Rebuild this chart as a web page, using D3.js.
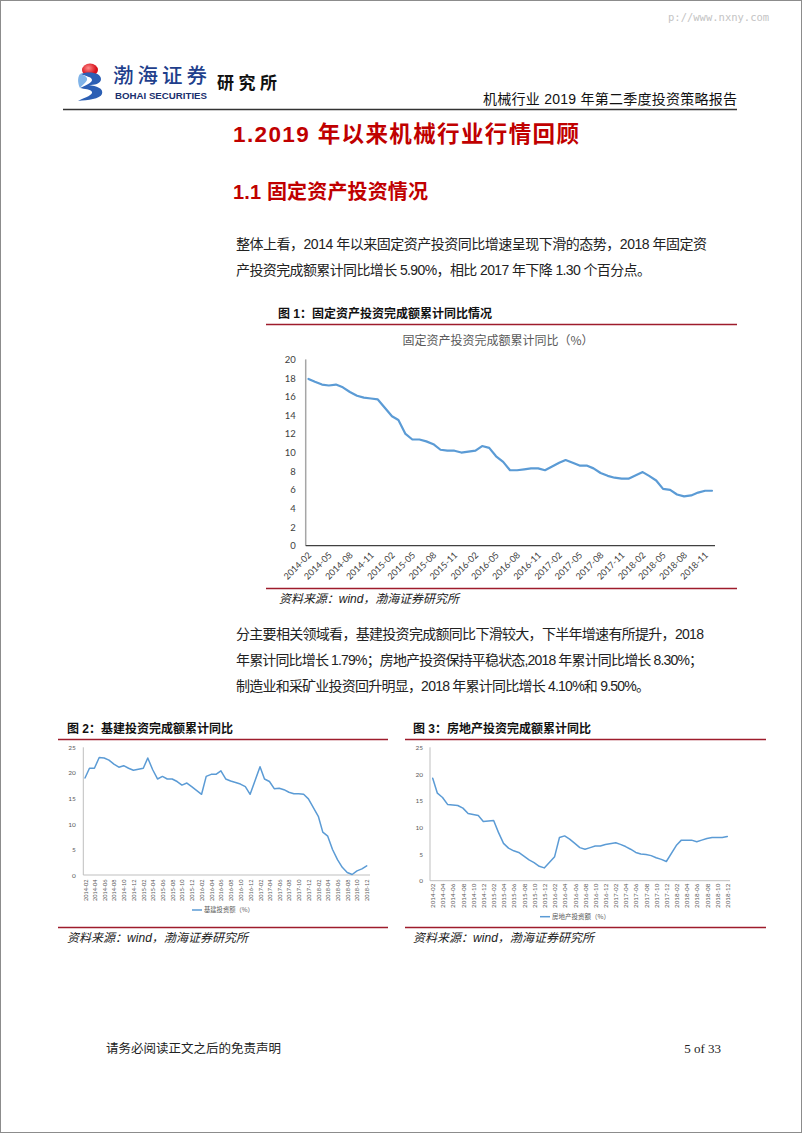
<!DOCTYPE html>
<html><head><meta charset="utf-8">
<script src="https://cdn.jsdelivr.net/npm/d3@7"></script>
<style>
body{margin:0;background:#fff;}
svg{display:block;}
</style></head><body>
<svg id="page" width="802" height="1133"></svg>
<script>
// ---------------- DATA ----------------
const months = [
"2014-02","2014-03","2014-04","2014-05","2014-06","2014-07","2014-08","2014-09","2014-10","2014-11","2014-12",
"2015-02","2015-03","2015-04","2015-05","2015-06","2015-07","2015-08","2015-09","2015-10","2015-11","2015-12",
"2016-02","2016-03","2016-04","2016-05","2016-06","2016-07","2016-08","2016-09","2016-10","2016-11","2016-12",
"2017-02","2017-03","2017-04","2017-05","2017-06","2017-07","2017-08","2017-09","2017-10","2017-11","2017-12",
"2018-02","2018-03","2018-04","2018-05","2018-06","2018-07","2018-08","2018-09","2018-10","2018-11","2018-12"];

const fixedAssetYoY = [
17.9,17.6,17.3,17.2,17.3,17.0,16.5,16.1,15.9,15.8,15.7,
13.9,13.5,12.0,11.4,11.4,11.2,10.9,10.3,10.2,10.2,10.0,
10.2,10.7,10.5,9.6,9.0,8.1,8.1,8.2,8.3,8.3,8.1,
8.9,9.2,8.9,8.6,8.6,8.3,7.8,7.5,7.3,7.2,7.2,
7.9,7.5,7.0,6.1,6.0,5.5,5.3,5.4,5.7,5.9,5.9];

const infraYoY = [
19.0,20.9,20.9,23.0,22.9,22.5,21.7,21.1,21.4,20.9,20.5,
20.9,22.9,20.6,18.8,19.3,18.8,18.8,18.3,17.6,18.0,17.3,
15.8,19.3,19.7,19.7,20.4,18.8,18.4,18.1,17.8,17.3,15.8,
21.2,18.8,18.3,16.9,17.0,16.7,16.2,15.9,15.9,15.8,14.9,
11.5,8.4,7.6,5.0,3.0,1.5,0.5,0.1,0.8,1.2,1.79];

const realEstateYoY = [
19.2,16.4,15.6,14.3,14.2,14.1,13.6,12.6,12.4,12.2,11.1,
11.3,9.1,7.0,6.1,5.6,5.3,4.6,3.9,3.4,2.7,2.4,
4.5,8.1,8.4,7.8,7.0,6.2,5.9,6.2,6.5,6.5,6.8,
7.1,6.8,6.4,5.9,5.3,5.0,4.9,4.7,4.3,4.0,3.6,
6.7,7.6,7.6,7.6,7.3,7.6,7.9,8.1,8.1,8.1,8.3];

const fig1XTicks = ["2014-02","2014-05","2014-08","2014-11","2015-02","2015-05","2015-08","2015-11",
"2016-02","2016-05","2016-08","2016-11","2017-02","2017-05","2017-08","2017-11",
"2018-02","2018-05","2018-08","2018-11"];
const fig23XTicks = ["2014-02","2014-04","2014-06","2014-08","2014-10","2014-12",
"2015-02","2015-04","2015-06","2015-08","2015-10","2015-12",
"2016-02","2016-04","2016-06","2016-08","2016-10","2016-12",
"2017-02","2017-04","2017-06","2017-08","2017-10","2017-12",
"2018-02","2018-04","2018-06","2018-08","2018-10","2018-12"];
const fig1YTicks = [0,2,4,6,8,10,12,14,16,18,20];
const fig23YTicks = [0,5,10,15,20,25];

const fig1Title = "固定资产投资完成额累计同比（%）";
const fig2Legend = "基建投资额（%）";
const fig3Legend = "房地产投资额（%）";

// ---------------- PAGE ----------------
const svg = d3.select("#page");
const CJK = "'Noto Sans CJK SC', sans-serif";
const MIX = "'Liberation Sans', 'Noto Sans CJK SC', sans-serif";
const parse = d3.timeParse("%Y-%m");

svg.append("rect").attr("x",0.5).attr("y",0.5).attr("width",801).attr("height",1132)
  .attr("fill","#fff").attr("stroke","#8c8c8c").attr("stroke-width",1);

function txt(x, y, s, o) {
  const t = svg.append("text").attr("x", x).attr("y", y).text(s)
    .attr("font-family", o.font || CJK).attr("font-size", o.size || 14)
    .attr("fill", o.fill || "#222");
  if (o.weight) t.attr("font-weight", o.weight);
  if (o.anchor) t.attr("text-anchor", o.anchor);
  if (o.style) t.attr("font-style", o.style);
  if (o.len) t.attr("textLength", o.len).attr("lengthAdjust", o.adjust || "spacing");
  return t;
}

// watermark
txt(668, 21, "p://www.nxny.com", {font:"'DejaVu Sans Mono', monospace", size:10.5, fill:"#c4c4c4"});

// logo
const logo = svg.append("g");
const rg = svg.append("defs").append("radialGradient").attr("id","rg").attr("cx","40%").attr("cy","35%");
rg.append("stop").attr("offset","0%").attr("stop-color","#ff8a8a");
rg.append("stop").attr("offset","100%").attr("stop-color","#d7111b");
logo.append("ellipse").attr("cx",90).attr("cy",70).attr("rx",8).attr("ry",6.5).attr("fill","url(#rg)");
logo.append("path").attr("d","M80,74 C88,71 101,72 101,79 C101,84 94,85 89,85 C96,86 104,88 102,94 C100,99 88,100 78,101 C86,97 93,95 92,92 C91,89 84,89 80,88 C86,85 92,83 92,80 C92,77 86,76 80,74 Z")
  .attr("fill","#2c5fb4");
logo.append("path").attr("d","M80,74 C84,75 88,77 87,80 C86,83 82,85 80,88 C78,84 77,78 80,74 Z").attr("fill","#7fb3e8");
txt(113, 83, "渤海证券", {font:"'Noto Sans CJK SC', serif", size:20.5, weight:500, fill:"#1f3f8c", len:94});
txt(115, 98.5, "BOHAI SECURITIES", {font:"'Liberation Sans Narrow', 'Liberation Sans', sans-serif", size:9.5, weight:"bold", fill:"#1a2f6e", len:92, adjust:"spacingAndGlyphs"});
txt(217, 89, "研究所", {size:17, weight:"bold", fill:"#111", len:60});

// header right
txt(737, 104, "机械行业 2019 年第二季度投资策略报告", {font:MIX, size:14, fill:"#111", anchor:"end", len:254});
svg.append("line").attr("x1",63).attr("x2",737).attr("y1",109.5).attr("y2",109.5).attr("stroke","#333").attr("stroke-width",1.5);

// section titles
txt(233, 142, "1.2019 年以来机械行业行情回顾", {font:MIX, size:22.5, weight:"bold", fill:"#c00000", len:346});
txt(233, 199, "1.1 固定资产投资情况", {font:MIX, size:20, weight:"bold", fill:"#c00000", len:195});

// paragraph 1
txt(236, 249, "整体上看，2014 年以来固定资产投资同比增速呈现下滑的态势，2018 年固定资", {font:MIX, size:14, fill:"#222", len:471});
txt(236, 275, "产投资完成额累计同比增长 5.90%，相比 2017 年下降 1.30 个百分点。", {font:MIX, size:14, fill:"#222", len:415});

// paragraph 2
txt(236, 639, "分主要相关领域看，基建投资完成额同比下滑较大，下半年增速有所提升，2018", {font:MIX, size:14, fill:"#222", len:468});
txt(236, 665, "年累计同比增长 1.79%；房地产投资保持平稳状态,2018 年累计同比增长 8.30%；", {font:MIX, size:14, fill:"#222", len:467});
txt(236, 691, "制造业和采矿业投资回升明显，2018 年累计同比增长 4.10%和 9.50%。", {font:MIX, size:14, fill:"#222", len:414});

// footer
txt(106, 1053, "请务必阅读正文之后的免责声明", {size:12.5, fill:"#222"});
txt(721, 1053, "5 of 33", {font:"'Liberation Serif', serif", size:13, fill:"#222", anchor:"end"});

// figure frames
const RED = "#9e1c2c";
function redLine(x1, x2, y) {
  svg.append("line").attr("x1",x1).attr("x2",x2).attr("y1",y).attr("y2",y).attr("stroke",RED).attr("stroke-width",1.5);
}
txt(278, 318, "图 1：固定资产投资完成额累计同比情况", {font:MIX, size:12, weight:"bold", fill:"#111", len:214});
redLine(266, 737, 324.5);
redLine(266, 737, 588.5);
txt(279, 603, "资料来源：wind，渤海证券研究所", {font:MIX, size:12, style:"italic", fill:"#222", len:180});

txt(67, 733, "图 2：基建投资完成额累计同比", {font:MIX, size:12, weight:"bold", fill:"#111", len:166});
redLine(58, 388, 739.5);
redLine(58, 388, 927.5);
txt(67, 942, "资料来源：wind，渤海证券研究所", {font:MIX, size:12, style:"italic", fill:"#222", len:181});

txt(413, 733, "图 3：房地产投资完成额累计同比", {font:MIX, size:12, weight:"bold", fill:"#111", len:178});
redLine(405, 766, 739.5);
redLine(405, 766, 927.5);
txt(413, 942, "资料来源：wind，渤海证券研究所", {font:MIX, size:12, style:"italic", fill:"#222", len:181});

// ---------------- CHARTS ----------------
function drawChart(c) {
  const g = svg.append("g");
  const x = d3.scaleTime().domain([parse(months[0]), parse(months[months.length - 1])]).range([c.x0, c.x1]);
  const y = d3.scaleLinear().domain([0, c.ymax]).range([c.yb, c.yt]);

  g.append("line").attr("x1", c.ax).attr("x2", c.ax).attr("y1", y(0)).attr("y2", y(c.ymax))
    .attr("stroke", c.yAxisColor).attr("stroke-width", c.yAxisW);
  g.append("line").attr("x1", c.ax).attr("x2", c.xEnd).attr("y1", y(0)).attr("y2", y(0))
    .attr("stroke", c.xAxisColor).attr("stroke-width", c.xAxisW);

  const ya = g.append("g").attr("transform", `translate(${c.ax},0)`)
    .call(d3.axisLeft(y).tickValues(c.yTicks).tickSize(0).tickPadding(c.yPad).tickFormat(d3.format("d")));
  ya.select(".domain").remove();
  ya.selectAll("text").attr("font-family", c.font).attr("font-size", c.yFs).attr("fill", c.textColor);

  const xa = g.append("g").attr("transform", `translate(0,${y(0)})`)
    .call(d3.axisBottom(x).tickValues(c.xTicks.map(parse)).tickSize(0).tickFormat(d3.timeFormat("%Y-%m")));
  xa.select(".domain").remove();
  xa.selectAll("text").attr("y", 0).attr("dy", 0).attr("x", 0)
    .attr("transform", `translate(${c.lx},${c.ly}) rotate(${c.rot})`)
    .attr("text-anchor", "end").attr("font-family", c.font).attr("font-size", c.xFs).attr("fill", c.textColor);

  g.append("path").datum(c.values)
    .attr("d", d3.line().x((d, i) => x(parse(months[i]))).y(d => y(d)))
    .attr("fill", "none").attr("stroke", "#5b9bd5").attr("stroke-width", c.lw)
    .attr("stroke-linejoin", "round").attr("stroke-linecap", "round");

  if (c.legend) {
    g.append("line").attr("x1", c.legX).attr("x2", c.legX + 10).attr("y1", c.legY).attr("y2", c.legY)
      .attr("stroke", "#5b9bd5").attr("stroke-width", 1.5);
    g.append("text").attr("x", c.legX + 12).attr("y", c.legY + 2.2).text(c.legend)
      .attr("font-family", CJK).attr("font-size", c.legFs).attr("fill", "#595959");
  }
}

// Figure 1
txt(498, 345, fig1Title, {size:12, fill:"#595959", anchor:"middle"});
drawChart({values: fixedAssetYoY, x0: 308.5, x1: 712, yb: 545.7, yt: 359.4, ymax: 20,
  ax: 305.7, xEnd: 715, yTicks: fig1YTicks, xTicks: fig1XTicks,
  yAxisColor: "#a6a6a6", yAxisW: 1.5, xAxisColor: "#404040", xAxisW: 1.2,
  yPad: 10, yFs: 9.5, xFs: 9, font: "'Lato', 'Liberation Sans', sans-serif", textColor: "#404040",
  lx: 3, ly: 10, rot: -45, lw: 2.2});

// Figure 2
drawChart({values: infraYoY, x0: 85, x1: 366.7, yb: 875, yt: 747.3, ymax: 25,
  ax: 83.3, xEnd: 370, yTicks: fig23YTicks, xTicks: fig23XTicks,
  yAxisColor: "#bfbfbf", yAxisW: 1, xAxisColor: "#bfbfbf", xAxisW: 1,
  yPad: 7.5, yFs: 6.5, xFs: 5.6, font: "'Lato', 'Liberation Sans', sans-serif", textColor: "#595959",
  lx: 2, ly: 4.5, rot: -90, lw: 1.5,
  legend: fig2Legend, legX: 192, legY: 910, legFs: 6.3});

// Figure 3
drawChart({values: realEstateYoY, x0: 432.7, x1: 727.3, yb: 880.7, yt: 747.3, ymax: 25,
  ax: 430, xEnd: 730, yTicks: fig23YTicks, xTicks: fig23XTicks,
  yAxisColor: "#bfbfbf", yAxisW: 1, xAxisColor: "#bfbfbf", xAxisW: 1,
  yPad: 7, yFs: 6.5, xFs: 6.3, font: "'Lato', 'Liberation Sans', sans-serif", textColor: "#595959",
  lx: 2.2, ly: 3, rot: -90, lw: 1.5,
  legend: fig3Legend, legX: 540, legY: 916.7, legFs: 6.5});
</script></body></html>
